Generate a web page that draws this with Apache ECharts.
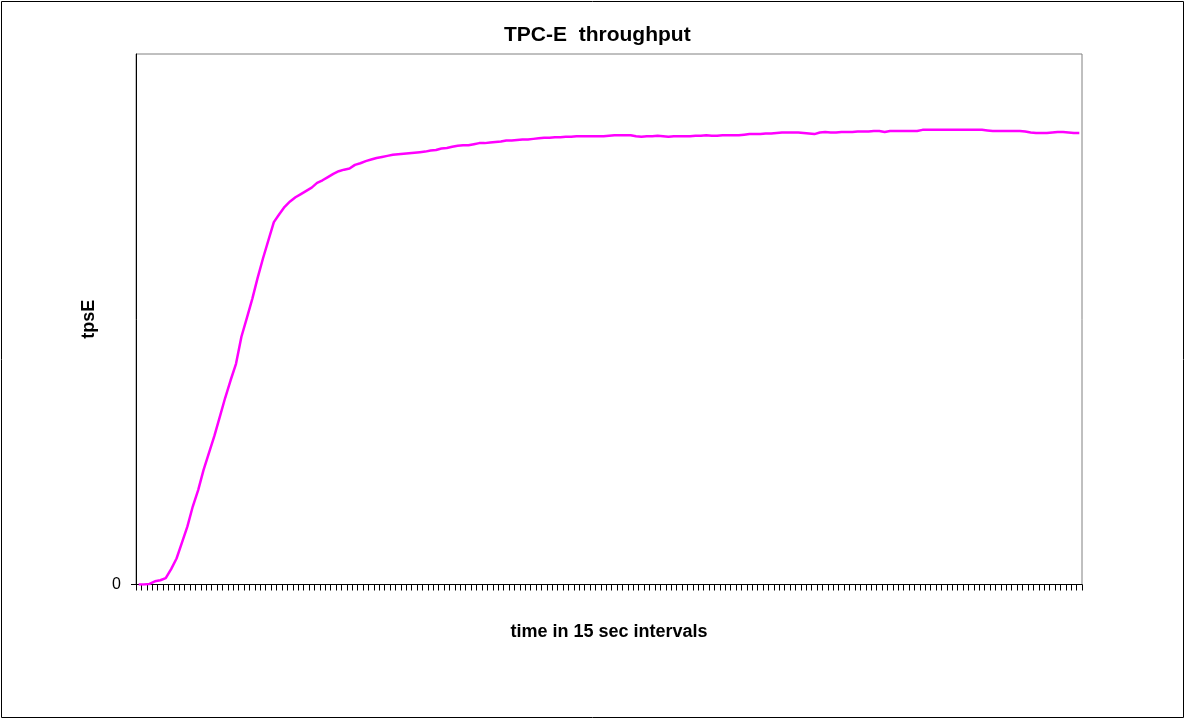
<!DOCTYPE html>
<html>
<head>
<meta charset="utf-8">
<title>TPC-E throughput</title>
<script src="https://cdn.jsdelivr.net/npm/echarts@6/dist/echarts.min.js"></script>
<style>
  html, body { margin: 0; padding: 0; background: #fff; }
  #main { width: 1186px; height: 720px; }
</style>
</head>
<body>
<div id="main"></div>
<script>
// tpsE per 15 sec interval
var tpsE = [
    0, 0, 1, 6, 8, 12, 29, 49, 79, 109,
    147, 178, 216, 248, 280, 316, 352, 385, 416, 467,
    502, 538, 578, 615, 649, 683, 698, 712, 722, 730,
    736, 742, 748, 757, 762, 768, 774, 779, 782, 784,
    791, 794, 798, 801, 804, 806, 808, 810, 811, 812,
    813, 814, 815, 816, 818, 819, 822, 823, 825, 827,
    828, 828, 830, 832, 832, 833, 834, 835, 837, 837,
    838, 839, 839, 840, 841, 842, 842, 843, 843, 844,
    844, 845, 845, 845, 845, 845, 845, 846, 847, 847,
    847, 847, 845, 844, 845, 845, 846, 845, 844, 845,
    845, 845, 845, 846, 846, 847, 846, 846, 847, 847,
    847, 847, 848, 849, 849, 849, 850, 850, 851, 852,
    852, 852, 852, 851, 850, 849, 852, 853, 852, 852,
    853, 853, 853, 854, 854, 854, 855, 855, 853, 855,
    855, 855, 855, 855, 855, 857, 857, 857, 857, 857,
    857, 857, 857, 857, 857, 857, 857, 856, 855, 855,
    855, 855, 855, 855, 854, 852, 851, 851, 851, 852,
    853, 853, 852, 851, 851
];
var intervals = tpsE.map(function (v, i) { return String(i + 1); });
var yTicks = [0];

var myChart = echarts.init(document.getElementById('main'));
var option = {
    backgroundColor: '#fff',
    animation: false,
    title: {
        text: 'TPC-E  throughput',
        left: 499,
        top: 20,
        textStyle: { fontFamily: 'Liberation Sans', fontSize: 21, fontWeight: 'bold', color: '#000' }
    },
    graphic: [{
        type: 'rect',
        shape: { x: 1.5, y: 1.5, width: 1182, height: 716 },
        style: { fill: 'none', stroke: '#000', lineWidth: 1 },
        silent: true
    }],
    grid: {
        left: 136, right: 104, top: 54, bottom: 135.5,
        show: true, borderColor: '#808080', borderWidth: 1
    },
    xAxis: {
        type: 'category',
        data: intervals,
        boundaryGap: true,
        name: 'time in 15 sec intervals',
        nameLocation: 'middle',
        nameGap: 39,
        nameTextStyle: { fontFamily: 'Liberation Sans', fontSize: 18, fontWeight: 'bold', color: '#000' },
        axisLine: { lineStyle: { color: '#000', width: 1 } },
        axisTick: { show: true, interval: 0, length: 6, lineStyle: { color: '#000', width: 1 } },
        axisLabel: { show: false },
        splitLine: { show: false }
    },
    yAxis: {
        type: 'value',
        min: 0,
        max: 1000,
        name: 'tpsE',
        nameLocation: 'middle',
        nameGap: 38,
        nameRotate: 90,
        nameTextStyle: { fontFamily: 'Liberation Sans', fontSize: 18, fontWeight: 'bold', color: '#000' },
        axisLine: { show: true, lineStyle: { color: '#000', width: 1 } },
        axisTick: { show: true, length: 5, customValues: yTicks, lineStyle: { color: '#000' } },
        axisLabel: { customValues: yTicks, margin: 15, fontFamily: 'Liberation Sans', fontSize: 16, color: '#000' },
        splitLine: { show: false }
    },
    series: [{
        name: 'tpsE',
        type: 'line',
        data: tpsE,
        showSymbol: false,
        smooth: false,
        lineStyle: { color: '#ff00ff', width: 2.5 }
    }]
};
myChart.setOption(option);
</script>
</body>
</html>
